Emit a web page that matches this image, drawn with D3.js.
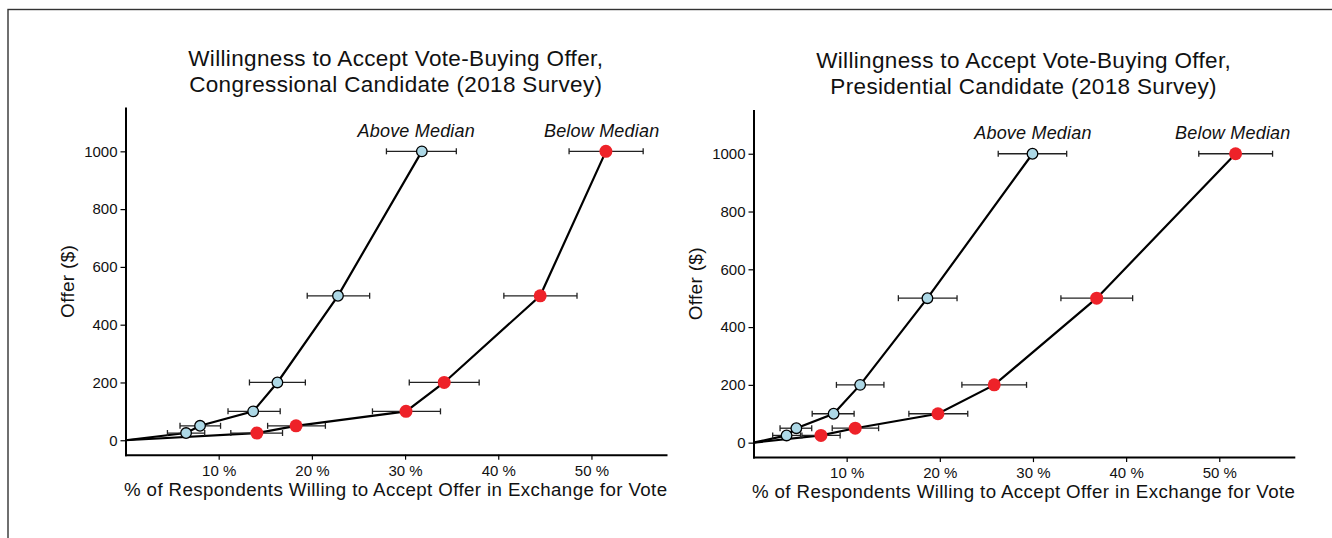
<!DOCTYPE html>
<html>
<head>
<meta charset="utf-8">
<script src="https://cdn.jsdelivr.net/npm/d3@7"></script>
<style>
  body { margin: 0; background: #fff; }
  svg { display: block; font-family: "Liberation Sans", Arial, Helvetica, sans-serif; }
</style>
</head>
<body>
<svg id="chart" width="1332" height="538"></svg>
<script>
// offer amounts ($), shared by both surveys
const offers = [25, 50, 100, 200, 500, 1000];

// Congressional candidate: % willing, with interval ends
const congAbove   = [6.5, 8.0, 13.7, 16.3, 22.8, 31.8];
const congAboveLo = [4.5, 5.85, 11.0, 13.3, 19.5, 28.0];
const congAboveHi = [8.5, 10.2, 16.6, 19.3, 26.2, 35.5];
const congBelow   = [14.1, 18.3, 30.1, 34.2, 44.5, 51.55];
const congBelowLo = [11.3, 15.25, 26.5, 30.45, 40.6, 47.6];
const congBelowHi = [16.85, 21.45, 33.8, 37.95, 48.45, 55.55];

// Presidential candidate
const presAbove   = [3.55, 4.6, 8.6, 11.45, 18.67, 29.95];
const presAboveLo = [2.06, 2.85, 6.3, 8.9, 15.55, 26.27];
const presAboveHi = [5.05, 6.25, 10.8, 14.0, 21.85, 33.62];
const presBelow   = [7.24, 10.92, 19.8, 25.84, 36.84, 51.75];
const presBelowLo = [5.2, 8.45, 16.68, 22.37, 33.0, 47.8];
const presBelowHi = [9.3, 13.43, 23.0, 29.31, 40.7, 55.72];

const groupLabels = ["Above Median", "Below Median"];
const congLabelX = [31.2, 51.1];
const presLabelX = [30.0, 51.45];
const labelY = 1072;

const xTicks = [10, 20, 30, 40, 50];
const yTicks = [0, 200, 400, 600, 800, 1000];
const xDomain = [0, 58];
const yDomain = [-50, 1150];

const xTitle = "% of Respondents Willing to Accept Offer in Exchange for Vote";
const yTitle = "Offer ($)";

const svg = d3.select("#chart");

// outer frame (runs off the right / bottom edge)
svg.append("rect")
    .attr("x", 8).attr("y", 9.5)
    .attr("width", 1400).attr("height", 600)
    .attr("fill", "none")
    .attr("stroke", "#333")
    .attr("stroke-width", 1.4);

const panels = [
    {
        title: ["Willingness to Accept Vote-Buying Offer,", "Congressional Candidate (2018 Survey)"],
        left: 125.5, right: 666, top: 108, bottom: 454.7,
        series: [
            { vals: congAbove, lo: congAboveLo, hi: congAboveHi, fill: "#add8e6", stroke: "#000", r: 5.3 },
            { vals: congBelow, lo: congBelowLo, hi: congBelowHi, fill: "#ee2229", stroke: "none", r: 6.5 }
        ],
        labelX: congLabelX
    },
    {
        title: ["Willingness to Accept Vote-Buying Offer,", "Presidential Candidate (2018 Survey)"],
        left: 753.5, right: 1293.8, top: 110.4, bottom: 457.1,
        series: [
            { vals: presAbove, lo: presAboveLo, hi: presAboveHi, fill: "#add8e6", stroke: "#000", r: 5.3 },
            { vals: presBelow, lo: presBelowLo, hi: presBelowHi, fill: "#ee2229", stroke: "none", r: 6.5 }
        ],
        labelX: presLabelX
    }
];

function drawPanel(p) {
    const x = d3.scaleLinear().domain(xDomain).range([p.left, p.right]);
    const y = d3.scaleLinear().domain(yDomain).range([p.bottom, p.top]);
    const g = svg.append("g");

    // axes
    const xa = g.append("g")
        .attr("transform", "translate(0," + p.bottom + ")")
        .call(d3.axisBottom(x).tickValues(xTicks).tickFormat(d => d + " %")
            .tickSize(5).tickSizeOuter(0).tickPadding(5.5));
    const ya = g.append("g")
        .attr("transform", "translate(" + p.left + ",0)")
        .call(d3.axisLeft(y).tickValues(yTicks).tickFormat(d3.format("d"))
            .tickSize(5).tickSizeOuter(0).tickPadding(3));

    [xa, ya].forEach(a => {
        a.select(".domain").attr("stroke", "#000").attr("stroke-width", 2).attr("stroke-linecap", "square");
        a.selectAll(".tick line").attr("stroke", "#000").attr("stroke-width", 1.2);
        a.selectAll(".tick text").attr("fill", "#111").style("font-size", "15px")
            .style("font-family", "'Liberation Sans', Arial, sans-serif");
    });

    // titles
    const cx = (p.left + p.right) / 2;
    g.append("text")
        .attr("x", cx).attr("y", p.top - 42)
        .attr("text-anchor", "middle")
        .style("font-size", "22.5px").style("letter-spacing", "0.35px")
        .attr("fill", "#111")
        .text(p.title[0]);
    g.append("text")
        .attr("x", cx).attr("y", p.top - 16.5)
        .attr("text-anchor", "middle")
        .style("font-size", "22.5px").style("letter-spacing", "0.35px")
        .attr("fill", "#111")
        .text(p.title[1]);

    g.append("text")
        .attr("x", cx).attr("y", p.bottom + 41)
        .attr("text-anchor", "middle")
        .style("font-size", "18.7px").style("letter-spacing", "0.4px")
        .attr("fill", "#111")
        .text(xTitle);

    g.append("text")
        .attr("transform", "translate(" + (p.left - 58.4) + "," + ((p.top + p.bottom) / 2) + ") rotate(-90)")
        .attr("text-anchor", "middle")
        .attr("dy", "0.35em")
        .style("font-size", "19px").style("letter-spacing", "0.3px")
        .attr("fill", "#111")
        .text(yTitle);

    const line = d3.line().x(d => x(d[0])).y(d => y(d[1]));

    // connecting lines, starting at the origin
    p.series.forEach(s => {
        const pts = [[0, 0]].concat(offers.map((o, i) => [s.vals[i], o]));
        g.append("path")
            .datum(pts)
            .attr("d", line)
            .attr("fill", "none")
            .attr("stroke", "#000")
            .attr("stroke-width", 2.2);
    });

    // horizontal error bars
    const capH = 3;
    p.series.forEach(s => {
        const eb = g.append("g").attr("stroke", "#222").attr("stroke-width", 1.3);
        offers.forEach((o, i) => {
            const yy = y(o);
            eb.append("line").attr("x1", x(s.lo[i])).attr("x2", x(s.hi[i])).attr("y1", yy).attr("y2", yy);
            eb.append("line").attr("x1", x(s.lo[i])).attr("x2", x(s.lo[i])).attr("y1", yy - capH).attr("y2", yy + capH);
            eb.append("line").attr("x1", x(s.hi[i])).attr("x2", x(s.hi[i])).attr("y1", yy - capH).attr("y2", yy + capH);
        });
    });

    // points
    p.series.forEach(s => {
        g.append("g").selectAll("circle")
            .data(offers.map((o, i) => [s.vals[i], o]))
            .join("circle")
            .attr("cx", d => x(d[0]))
            .attr("cy", d => y(d[1]))
            .attr("r", s.r)
            .attr("fill", s.fill)
            .attr("stroke", s.stroke)
            .attr("stroke-width", 1.3);
    });

    // group labels
    groupLabels.forEach((lab, i) => {
        g.append("text")
            .attr("x", x(p.labelX[i])).attr("y", y(labelY))
            .attr("dy", "0.35em")
            .attr("text-anchor", "middle")
            .style("font-size", "18px").style("font-style", "italic").style("letter-spacing", "0.2px")
            .attr("fill", "#111")
            .text(lab);
    });
}

panels.forEach(drawPanel);
</script>
</body>
</html>
